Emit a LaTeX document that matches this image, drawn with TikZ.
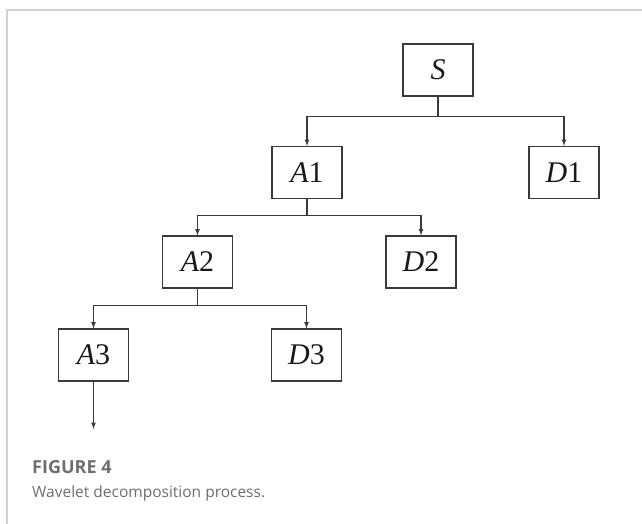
\documentclass[tikz,border=0pt]{standalone}
\usepackage{fontspec}
\setmainfont{Liberation Serif}
\newfontfamily\capfont{Open Sans}
\usepackage{tikz}
\usetikzlibrary{positioning, arrows}

\definecolor{boxgray}{HTML}{3A3A3A}
\definecolor{framegray}{HTML}{D0D0D0}
\definecolor{capgray}{HTML}{6E6E6E}

\tikzset{
    coef/.style={draw=boxgray, line width=1.2pt, minimum width=70pt, minimum height=52pt,
                 inner sep=0pt, text=black!90, font=\fontsize{30}{30}\selectfont},
    arr/.style={draw=boxgray, line width=1.2pt, -latex}
}

\begin{document}
\begin{tikzpicture}[x=1pt, y=-1pt]
    \useasboundingbox (0,0) rectangle (642,524);
    % frame
    \draw[framegray, line width=1.5pt] (642,10) -- (7,10) -- (7,524);

    % tree of coefficients
    \node[coef] (S) at (438,70) {\textit{S}};
    \node[coef] (A1) at (307,172.5) {\textit{A}1};
    \node[coef] (D1) at (564,172.5) {\textit{D}1};
    \node[coef] (A2) at (197.5,262) {\textit{A}2};
    \node[coef] (D2) at (421,262) {\textit{D}2};
    \node[coef] (A3) at (93.5,355) {\textit{A}3};
    \node[coef] (D3) at (306.5,355) {\textit{D}3};
    \coordinate (out) at (93.5,429);

    \draw[arr] (S.south) -- ++(0,20) -| (A1.north);
    \draw[arr] (S.south) -- ++(0,20) -| (D1.north);
    \draw[arr] (A1.south) -- ++(0,16) -| (A2.north);
    \draw[arr] (A1.south) -- ++(0,16) -| (D2.north);
    \draw[arr] (A2.south) -- ++(0,17) -| (A3.north);
    \draw[arr] (A2.south) -- ++(0,17) -| (D3.north);
    \draw[arr] (A3.south) -- (out);

    % caption
    \node[anchor=base west, inner sep=0pt, text=capgray, font=\capfont\fontsize{18}{18}\selectfont\bfseries] (fig) at (32,473) {FIGURE 4};
    \node[anchor=base west, inner sep=0pt, text=capgray, font=\capfont\fontsize{15.5}{15.5}\selectfont] (cap) at (32,497) {Wavelet decomposition process.};
\end{tikzpicture}
\end{document}
